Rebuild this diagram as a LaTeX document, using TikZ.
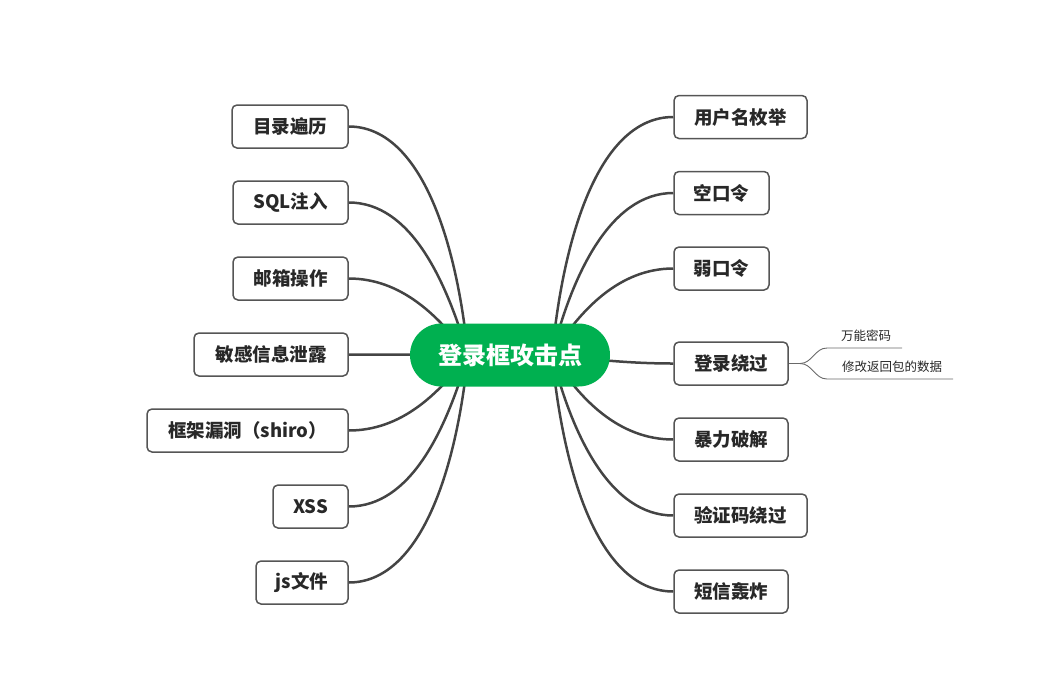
\documentclass[tikz,border=0pt]{standalone}
\usepackage{fontspec}
\setmainfont{Noto Sans CJK SC}
\usetikzlibrary{backgrounds}
\definecolor{mgreen}{RGB}{0,176,80}
\definecolor{lineg}{RGB}{68,68,68}
\definecolor{boxg}{RGB}{85,85,85}
\definecolor{txtg}{RGB}{40,40,40}
\tikzset{
  box/.style={draw=boxg, line width=1.5pt, rounded corners=5pt, fill=white,
    minimum height=43pt, inner sep=0pt, text=txtg,
    font=\fontsize{18.5}{20}\selectfont\bfseries},
  conn/.style={draw=lineg, line width=2.5pt},
  subl/.style={draw=lineg!80, line width=0.9pt},
  subt/.style={inner sep=0pt, text=txtg, font=\fontsize{12.5}{14}\selectfont},
}
\begin{document}
\begin{tikzpicture}[x=1pt,y=-1pt]
\useasboundingbox (0,0) rectangle (1045,689);
% centre
\node[fill=mgreen, rounded corners=31.5pt, minimum width=200pt, minimum height=63pt,
  inner sep=0pt, text=white, font=\fontsize{24}{26}\selectfont\bfseries] (c) at (510,355) {登录框攻击点};
\coordinate (cl) at (468,355);
\coordinate (cr) at (552,355);
% left boxes
\node[box, minimum width=116pt] (l1) at (290,126.5) {目录遍历};
\node[box, minimum width=115pt] (l2) at (290.5,202.5) {SQL注入};
\node[box, minimum width=115pt] (l3) at (290.5,278.5) {邮箱操作};
\node[box, minimum width=154pt] (l4) at (271,354.5) {敏感信息泄露};
\node[box, minimum width=201pt] (l5) at (247.5,430.5) {框架漏洞（shiro）};
\node[box, minimum width=75pt] (l6) at (310.5,506.5) {XSS};
\node[box, minimum width=92pt] (l7) at (302,582.5) {js文件};
% right boxes
\node[box, minimum width=133pt] (r1) at (740.5,117) {用户名枚举};
\node[box, minimum width=95pt] (r2) at (721.5,193) {空口令};
\node[box, minimum width=95pt] (r3) at (721.5,268.5) {弱口令};
\node[box, minimum width=114pt] (r4) at (731,363.5) {登录绕过};
\node[box, minimum width=114pt] (r5) at (731,439.5) {暴力破解};
\node[box, minimum width=133pt] (r6) at (740.5,515.5) {验证码绕过};
\node[box, minimum width=114pt] (r7) at (731,591.5) {短信轰炸};
% sub branches
\coordinate (f) at (800,363.5);
\coordinate (s1a) at (827,348);
\coordinate (s1b) at (902,348);
\coordinate (s2a) at (827,379);
\coordinate (s2b) at (953,379);
\node[subt] (t1) at (866,336) {万能密码};
\node[subt] (t2) at (892,367) {修改返回包的数据};
\begin{pgfonlayer}{background}
\draw[conn] (l1.east) .. controls +(70,0) and +(-12,-120) .. (cl);
\draw[conn] (l2.east) .. controls +(62,0) and +(-22,-75) .. (cl);
\draw[conn] (l3.east) .. controls +(52,0) and +(-30,-40) .. (cl);
\draw[conn] (c.center) -- (l4.east);
\draw[conn] (l5.east) .. controls +(52,0) and +(-30,40) .. (cl);
\draw[conn] (l6.east) .. controls +(62,0) and +(-22,75) .. (cl);
\draw[conn] (l7.east) .. controls +(70,0) and +(-12,120) .. (cl);
\draw[conn] (r1.west) .. controls +(-72,0) and +(12,-125) .. (cr);
\draw[conn] (r2.west) .. controls +(-63,0) and +(20,-80) .. (cr);
\draw[conn] (r3.west) .. controls +(-54,0) and +(28,-45) .. (cr);
\draw[conn] (c.center) to[out=0,in=180] (r4.west);
\draw[conn] (r5.west) .. controls +(-54,0) and +(28,45) .. (cr);
\draw[conn] (r6.west) .. controls +(-63,0) and +(20,80) .. (cr);
\draw[conn] (r7.west) .. controls +(-72,0) and +(12,125) .. (cr);
\end{pgfonlayer}
\draw[subl] (r4.east) -- (f);
\draw[subl] (f) to[out=0,in=180] (s1a) -- (s1b);
\draw[subl] (f) to[out=0,in=180] (s2a) -- (s2b);
\end{tikzpicture}
\end{document}
